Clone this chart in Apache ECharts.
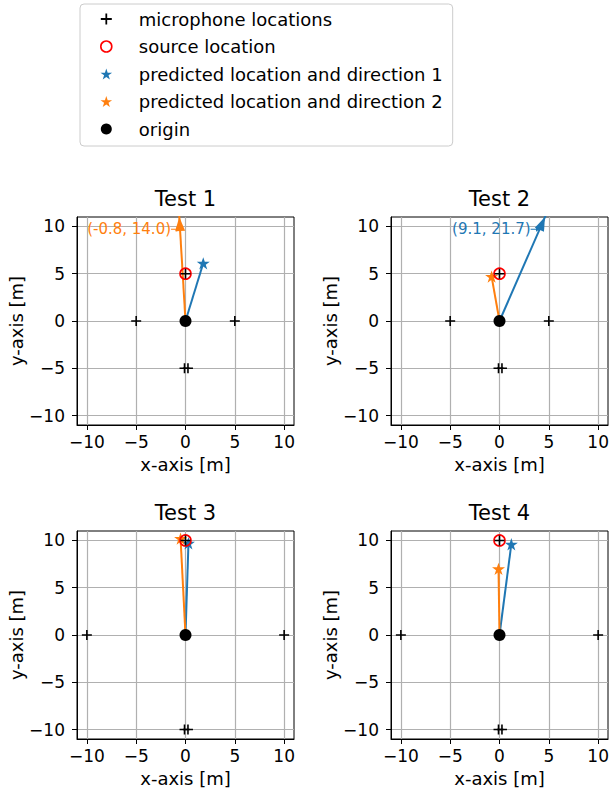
<!DOCTYPE html>
<html><head><meta charset="utf-8">
<script src="https://cdn.jsdelivr.net/npm/echarts@6/dist/echarts.min.js"></script>
<style>html,body{margin:0;padding:0;background:#fff}#c{width:610px;height:794px}</style>
</head><body><div id="c"></div>
<script>
// ---------------- data ----------------
const testTitles = ['Test 1', 'Test 2', 'Test 3', 'Test 4'];
const tickValues = [-10, -5, 0, 5, 10];
const axisMin = -11, axisMax = 11;
const micX = [[-5, 5, 0, -0.1, 0.25], [-5, 5, 0, -0.1, 0.25], [-10, 10, 0, -0.1, 0.25], [-10, 10, 0, -0.1, 0.25]];
const micY = [[0, 0, 5, -5, -5], [0, 0, 5, -5, -5], [0, 0, 10, -10, -10], [0, 0, 10, -10, -10]];
const sourceX = [0, 0, 0, 0];
const sourceY = [5, 5, 10, 10];
const pred1X = [1.8, 9.1, 0.3, 1.2];
const pred1Y = [6.1, 21.7, 9.7, 9.6];
const pred2X = [-0.8, -0.8, -0.5, -0.1];
const pred2Y = [14.0, 4.7, 10.2, 7.0];
const originX = 0, originY = 0;
const legendNames = ['microphone locations', 'source location', 'predicted location and direction 1', 'predicted location and direction 2', 'origin'];

// ---------------- style ----------------
const FONT = 'DejaVu Sans';
const BLUE = '#1f77b4', ORANGE = '#ff7f0e';
const PLUS = 'path://M4.2,0h1.6v4.2h4.2v1.6h-4.2v4.2h-1.6v-4.2h-4.2v-1.6h4.2z';
const STAR = 'path://M50,0 L61.23,34.55 L97.55,34.55 L68.17,55.9 L79.39,90.45 L50,69.1 L20.61,90.45 L31.83,55.9 L2.45,34.55 L38.77,34.55 Z';
const ANNOT_ARROW = 'path://M0,4.4 L6,4.4 L6,2 L10,5 L6,8 L6,5.6 L0,5.6 Z';
const gridPos = [{left: 77, top: 217}, {left: 391, top: 217}, {left: 77, top: 531}, {left: 391, top: 531}];
const GW = 217, GH = 208;
const pxPerX = GW / (axisMax - axisMin), pxPerY = GH / (axisMax - axisMin);

const fmt = v => v < 0 ? '\u2212' + Math.abs(v) : String(v);

const grids = [], xAxes = [], yAxes = [], titles = [], series = [];

testTitles.forEach((t, i) => {
  const g = gridPos[i];
  grids.push({left: g.left, top: g.top, width: GW, height: GH, show: true, borderColor: '#000', borderWidth: 1, outerBoundsMode: 'none'});
  titles.push({text: t, left: g.left + GW / 2, top: g.top - 29, textAlign: 'center', padding: 0,
    textStyle: {fontSize: 21, fontWeight: 'normal', color: '#000', fontFamily: FONT, lineHeight: 22}});
  const common = {
    gridIndex: i, type: 'value', min: axisMin, max: axisMax, nameLocation: 'middle',
    nameTextStyle: {fontSize: 18, color: '#000', fontFamily: FONT},
    axisLine: {show: true, onZero: false, lineStyle: {color: '#000', width: 1}},
    axisTick: {show: true, inside: false, length: 5, customValues: tickValues, lineStyle: {color: '#000', width: 1}},
    axisLabel: {customValues: tickValues, fontSize: 17, color: '#000', fontFamily: FONT, formatter: fmt},
    splitLine: {show: true, lineStyle: {color: '#b0b0b0', width: 1.2}}
  };
  xAxes.push(Object.assign({}, common, {name: 'x-axis [m]', nameGap: 30, axisLabel: Object.assign({}, common.axisLabel, {margin: 8})}));
  yAxes.push(Object.assign({}, common, {name: 'y-axis [m]', nameGap: 44, axisLabel: Object.assign({}, common.axisLabel, {margin: 12})}));

  const preds = [[pred1X[i], pred1Y[i], BLUE, legendNames[2]], [pred2X[i], pred2Y[i], ORANGE, legendNames[3]]];
  preds.forEach(([px, py, col, nm]) => {
    series.push({type: 'line', name: nm, xAxisIndex: i, yAxisIndex: i, data: [[originX, originY], [px, py]],
      showSymbol: false, symbol: 'none', lineStyle: {color: col, width: 2}, itemStyle: {color: col}, z: 3, silent: true, animation: false});
    const inside = px >= axisMin && px <= axisMax && py >= axisMin && py <= axisMax;
    if (inside) {
      series.push({type: 'scatter', name: nm, xAxisIndex: i, yAxisIndex: i, data: [[px, py]], symbol: STAR, symbolKeepAspect: true,
        symbolSize: 13, itemStyle: {color: col, opacity: 1}, z: 5, silent: true, animation: false});
    } else {
      // exit point of the direction line through the plot frame
      const tExit = Math.min(py > axisMax ? axisMax / py : Infinity, px > axisMax ? axisMax / px : Infinity,
                             py < axisMin ? axisMin / py : Infinity, px < axisMin ? axisMin / px : Infinity);
      const lenPx = Math.hypot(px * pxPerX, py * pxPerY);
      const headH = 14;
      const tc = tExit - (headH / 2) / lenPx;
      const rot = -Math.atan2(px * pxPerX, py * pxPerY) * 180 / Math.PI;
      series.push({type: 'scatter', name: nm, xAxisIndex: i, yAxisIndex: i, data: [[px * tc, py * tc]], symbol: 'triangle',
        symbolSize: [10, headH], symbolRotate: rot, itemStyle: {color: col, opacity: 1}, z: 4, silent: true, animation: false, clip: false});
      const ay = 9.7;
      series.push({type: 'scatter', name: nm, xAxisIndex: i, yAxisIndex: i, data: [[px * ay / py, ay]], symbol: ANNOT_ARROW,
        symbolSize: [9, 5], symbolOffset: [-4.5, 0], itemStyle: {color: col, opacity: 1}, z: 4, silent: true, animation: false,
        label: {show: true, position: 'left', distance: 0, color: col, fontSize: 15, fontFamily: FONT,
          formatter: () => '(' + px.toFixed(1) + ', ' + py.toFixed(1) + ')'}});
    }
  });

  series.push({type: 'scatter', name: legendNames[4], xAxisIndex: i, yAxisIndex: i, data: [[originX, originY]], symbol: 'circle',
    symbolSize: 12, itemStyle: {color: '#000', opacity: 1}, z: 6, silent: true, animation: false});
  series.push({type: 'scatter', name: legendNames[1], xAxisIndex: i, yAxisIndex: i, data: [[sourceX[i], sourceY[i]]], symbol: 'circle',
    symbolSize: 11, itemStyle: {color: 'rgba(0,0,0,0)', borderColor: 'red', borderWidth: 1.6, opacity: 1}, z: 7, silent: true, animation: false});
  series.push({type: 'scatter', name: legendNames[0], xAxisIndex: i, yAxisIndex: i, data: micX[i].map((x, k) => [x, micY[i][k]]),
    symbol: PLUS, symbolKeepAspect: true, symbolSize: 10, itemStyle: {color: '#000', opacity: 1}, z: 8, silent: true, animation: false});
});

const chart = echarts.init(document.getElementById('c'), null, {renderer: 'svg', width: 610, height: 794});
chart.setOption({
  backgroundColor: '#fff',
  animation: false,
  title: titles,
  grid: grids,
  xAxis: xAxes,
  yAxis: yAxes,
  legend: {
    orient: 'vertical', left: 80, top: 4, padding: [6, 10, 8, 20], itemGap: 9.5,
    itemWidth: 55, itemHeight: 11, selectedMode: false,
    borderColor: '#cccccc', borderWidth: 1, borderRadius: 4, backgroundColor: '#fff',
    textStyle: {fontSize: 18, fontFamily: FONT, color: '#000', lineHeight: 18},
    data: [
      {name: legendNames[0], icon: PLUS, itemStyle: {color: '#000', opacity: 1}},
      {name: legendNames[1], icon: 'circle', itemStyle: {color: 'rgba(0,0,0,0)', borderColor: 'red', borderWidth: 1.6, opacity: 1}},
      {name: legendNames[2], icon: STAR, itemStyle: {color: BLUE, opacity: 1}},
      {name: legendNames[3], icon: STAR, itemStyle: {color: ORANGE, opacity: 1}},
      {name: legendNames[4], icon: 'circle', itemStyle: {color: '#000', opacity: 1}}
    ]
  },
  series: series
});
</script></body></html>
